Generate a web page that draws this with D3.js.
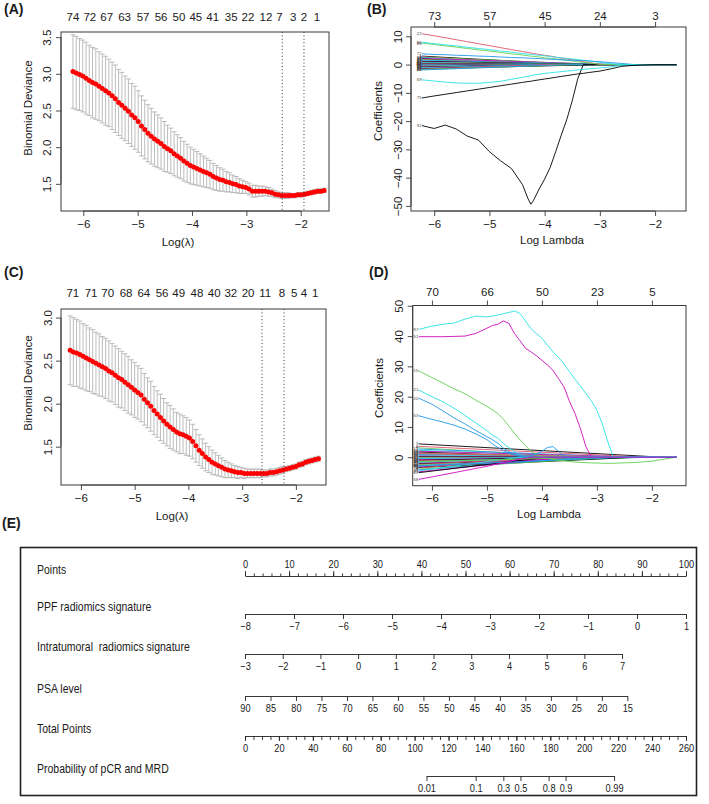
<!DOCTYPE html>
<html><head><meta charset="utf-8">
<script src="https://cdn.jsdelivr.net/npm/d3@7"></script>
<style>
body{margin:0;background:#fff;}
svg{display:block;}
</style></head><body>
<svg id="fig" width="709" height="804"></svg>
<script>
// ---------------- DATA ----------------
// Panel A: cross-validation curve
const lamA = [-6.19,-6.13,-6.07,-6.01,-5.95,-5.89,-5.83,-5.77,-5.71,-5.65,-5.59,-5.53,-5.47,-5.41,-5.35,-5.29,-5.23,-5.17,-5.11,-5.05,-4.99,-4.93,-4.87,-4.81,-4.75,-4.69,-4.63,-4.57,-4.51,-4.45,-4.39,-4.33,-4.27,-4.21,-4.15,-4.09,-4.03,-3.97,-3.91,-3.85,-3.79,-3.73,-3.67,-3.61,-3.55,-3.49,-3.43,-3.37,-3.31,-3.25,-3.19,-3.13,-3.07,-3.01,-2.95,-2.89,-2.83,-2.77,-2.71,-2.65,-2.59,-2.53,-2.47,-2.41,-2.35,-2.29,-2.23,-2.17,-2.11,-2.05,-1.99,-1.93,-1.87,-1.81,-1.75,-1.69,-1.63,-1.57];
const meanA = [3.03,3.01,2.99,2.97,2.94,2.91,2.88,2.86,2.83,2.80,2.77,2.74,2.70,2.66,2.61,2.57,2.53,2.49,2.44,2.40,2.35,2.29,2.24,2.19,2.15,2.11,2.08,2.05,2.01,1.98,1.95,1.91,1.88,1.85,1.81,1.78,1.75,1.73,1.71,1.69,1.67,1.65,1.63,1.60,1.58,1.56,1.55,1.53,1.52,1.50,1.49,1.47,1.46,1.45,1.43,1.40,1.40,1.40,1.40,1.40,1.39,1.38,1.36,1.35,1.34,1.34,1.34,1.34,1.34,1.35,1.35,1.36,1.37,1.38,1.39,1.40,1.40,1.41];
const seA = [0.50,0.50,0.49,0.49,0.49,0.48,0.48,0.48,0.47,0.47,0.47,0.46,0.46,0.46,0.45,0.45,0.44,0.44,0.43,0.43,0.42,0.41,0.40,0.39,0.38,0.37,0.36,0.35,0.34,0.32,0.31,0.30,0.29,0.28,0.27,0.26,0.25,0.24,0.23,0.22,0.21,0.20,0.19,0.18,0.17,0.16,0.15,0.14,0.13,0.12,0.11,0.10,0.09,0.08,0.08,0.08,0.08,0.07,0.07,0.06,0.06,0.05,0.05,0.04,0.04,0.04,0.04,0.03,0.03,0.03,0.03,0.03,0.03,0.03,0.03,0.03,0.03,0.03];
const topLabA = [74,72,67,63,57,56,50,45,41,35,22,12,7,3,2,1];
const topLamA = [-6.19,-5.88,-5.57,-5.24,-4.90,-4.57,-4.24,-3.93,-3.62,-3.28,-2.97,-2.64,-2.39,-2.14,-1.94,-1.70];
const vLinesA = [-2.34,-1.94];

// Panel C: cross-validation curve
const lamC = [-6.20,-6.14,-6.08,-6.02,-5.96,-5.90,-5.84,-5.78,-5.72,-5.66,-5.60,-5.54,-5.48,-5.42,-5.36,-5.30,-5.24,-5.18,-5.12,-5.06,-5.00,-4.94,-4.88,-4.82,-4.76,-4.70,-4.64,-4.58,-4.52,-4.46,-4.40,-4.34,-4.28,-4.22,-4.16,-4.10,-4.04,-3.98,-3.92,-3.86,-3.80,-3.74,-3.68,-3.62,-3.56,-3.50,-3.44,-3.38,-3.32,-3.26,-3.20,-3.14,-3.08,-3.02,-2.96,-2.90,-2.84,-2.78,-2.72,-2.66,-2.60,-2.54,-2.48,-2.42,-2.36,-2.30,-2.24,-2.18,-2.12,-2.06,-2.00,-1.94,-1.88,-1.82,-1.76,-1.70,-1.64,-1.58];
const meanC = [2.62,2.60,2.59,2.57,2.55,2.53,2.51,2.49,2.47,2.45,2.43,2.41,2.38,2.36,2.33,2.30,2.28,2.25,2.22,2.19,2.16,2.13,2.10,2.05,2.01,1.97,1.92,1.88,1.84,1.80,1.76,1.73,1.70,1.67,1.65,1.64,1.62,1.60,1.56,1.51,1.46,1.42,1.38,1.35,1.32,1.30,1.28,1.26,1.24,1.23,1.22,1.21,1.20,1.20,1.19,1.19,1.19,1.19,1.19,1.19,1.19,1.19,1.20,1.20,1.21,1.22,1.23,1.24,1.25,1.26,1.27,1.29,1.30,1.32,1.33,1.34,1.35,1.36];
const seC = [0.40,0.40,0.39,0.39,0.38,0.38,0.37,0.37,0.36,0.36,0.35,0.35,0.35,0.34,0.34,0.34,0.33,0.33,0.33,0.32,0.32,0.31,0.31,0.30,0.29,0.29,0.28,0.27,0.27,0.26,0.25,0.25,0.24,0.23,0.23,0.22,0.22,0.21,0.20,0.19,0.18,0.17,0.16,0.15,0.14,0.13,0.12,0.11,0.10,0.09,0.08,0.07,0.07,0.06,0.06,0.05,0.05,0.05,0.05,0.05,0.04,0.04,0.04,0.04,0.04,0.04,0.04,0.03,0.03,0.03,0.03,0.03,0.03,0.03,0.03,0.03,0.03,0.03];
const topLabC = [71,71,70,68,64,56,49,48,40,32,20,11,8,5,4,1];
const topLamC = [-6.15,-5.81,-5.50,-5.16,-4.83,-4.49,-4.18,-3.84,-3.52,-3.21,-2.89,-2.57,-2.26,-2.03,-1.85,-1.64];
const vLinesC = [-2.63,-2.22];

// Panel B: coefficient paths
const lamB = [-6.22,-6.0,-5.8,-5.6,-5.4,-5.2,-5.0,-4.8,-4.6,-4.4,-4.3,-4.25,-4.2,-4.1,-4.0,-3.9,-3.8,-3.7,-3.6,-3.5,-3.4,-3.3,-3.2,-3.0,-2.8,-2.6,-2.4,-2.2,-2.0,-1.8,-1.61];
const coefB92 = [-21.6,-22.6,-21.4,-22.8,-25.3,-26.7,-30.8,-34.0,-36.8,-42.5,-47.5,-49.4,-48.0,-44.0,-40.5,-36.4,-30.8,-25.0,-19.5,-12.8,-5.0,0,0,0,0,0,0,0,0,0,0];
const coefB22 = [10.9,10.2,9.5,8.8,8.1,7.4,6.7,6.0,5.3,4.6,4.3,4.1,3.9,3.6,3.3,3.0,2.6,2.3,2.0,1.7,1.4,1.0,0.7,0.1,0,0,0,0,0,0,0];
const coefB88 = [7.6,7.1,6.6,6.2,5.7,5.2,4.8,4.3,3.8,3.4,3.1,3.0,2.9,2.7,2.4,2.2,2.0,1.7,1.5,1.3,1.0,0.8,0.6,0.1,0,0,0,0,0,0,0];
const coefB86 = [7.9,7.4,7.0,6.6,6.1,5.7,5.3,4.8,4.4,3.9,3.7,3.6,3.5,3.3,3.1,2.9,2.6,2.4,2.2,2.0,1.8,1.5,1.3,0.8,0.3,0,0,0,0,0,0];
const coefB72 = [3.8,3.6,3.5,3.3,3.2,3.0,2.9,2.7,2.5,2.4,2.3,2.2,2.2,2.1,2.0,1.9,1.8,1.7,1.6,1.5,1.5,1.4,1.3,1.0,0.7,0.4,0.05,0,0,0,0];
const coefB69 = [-5.4,-5.8,-6.2,-6.5,-6.6,-6.6,-6.3,-5.9,-5.2,-4.5,-4.1,-3.9,-3.7,-3.4,-3.1,-2.9,-2.7,-2.5,-2.3,-2.1,-1.9,-1.7,-1.5,-1.2,-0.8,-0.2,0,0,0,0,0];
const coefB75 = [-11.8,-11.1,-10.5,-9.9,-9.3,-8.7,-8.1,-7.5,-6.9,-6.3,-6.0,-5.9,-5.7,-5.4,-5.1,-4.8,-4.5,-4.2,-3.9,-3.6,-3.3,-3.1,-2.8,-2.3,-1.5,-0.6,-0.3,-0.1,0,0,0];
const bundleStartB = [3.0,2.8,2.6,2.5,2.3,2.2,2.0,1.8,1.7,1.5,1.4,1.2,1.1,0.9,0.8,0.7,0.5,0.4,0.3,0.2,0.1,0.0,-0.1,-0.2,-0.3,-0.4,-0.5,-0.6,-0.7,-0.8,-0.9,-1.0,-1.1,-1.2,-1.3,-1.4,-1.5,-1.6,-1.7,-1.9];
const bundleZeroB = [-3.4,-3.9,-3.0,-4.2,-3.6,-2.8,-4.4,-3.2,-3.8,-2.6,-4.0,-3.5,-3.1,-4.3,-2.9,-3.7,-3.3,-4.1,-2.7,-3.6,-3.9,-3.2,-4.5,-3.0,-3.8,-3.4,-4.2,-2.8,-3.6,-3.1,-4.0,-3.5,-2.9,-4.3,-3.3,-3.7,-3.0,-3.9,-3.4,-3.6];
const bundleIdsB = [1,4,7,10,13,16,19,23,26,29,31,34,37,40,43,46,49,52,55,58,61,64,67,70,73,76,79,82,85,2,5,8,11,14,17,20,24,27,30,33];
const topLabB = [73,57,45,24,3];

// Panel D: coefficient paths
const lamD = [-6.24,-6.0,-5.8,-5.6,-5.4,-5.2,-5.0,-4.9,-4.8,-4.7,-4.6,-4.5,-4.4,-4.3,-4.2,-4.1,-4.0,-3.9,-3.8,-3.7,-3.6,-3.5,-3.4,-3.3,-3.2,-3.1,-3.0,-2.9,-2.8,-2.7,-2.6,-2.4,-2.2,-2.0,-1.8,-1.55];
const coefD87 = [42.2,43.3,43.9,44.3,45.6,46.6,46.3,46.6,47.0,47.4,47.8,48.3,47.5,45.0,42.5,40.8,39.3,37.0,34.8,33.0,30.8,28.3,25.8,23.5,21.0,18.6,15.5,11.0,5.0,0,0,0,0,0,0,0];
const coefD51 = [39.8,39.8,39.8,39.9,40.0,40.9,42.6,43.5,43.9,45.0,44.2,40.9,38.5,36.0,34.8,33.5,32.0,30.5,28.7,26.0,23.3,18.5,14.5,9.5,3.5,0,0,0,0,0,0,0,0,0,0,0];
const coefD15 = [28.5,26.3,24.5,22.6,21.0,18.8,16.8,15.6,14.4,12.5,10.3,7.9,5.8,3.8,2.0,0.9,0.2,-0.3,-0.7,-1.0,-1.2,-1.4,-1.6,-1.7,-1.8,-1.9,-1.9,-2.0,-2.0,-2.0,-1.9,-1.8,-1.6,-1.3,-0.7,0];
const coefD21 = [22.2,20.0,18.3,16.2,13.8,11.3,8.8,7.3,6.3,4.5,3.2,1.8,0.8,0.2,0,0,0,0,0,0,0,0,0,0,0,0,0,0,0,0,0,0,0,0,0,0];
const coefD20 = [19.5,17.5,15.3,13.0,11.0,8.8,6.8,5.8,4.6,3.0,1.8,1.0,0.6,0.4,0.5,1.0,2.0,3.2,3.5,2.0,0.3,0,0,0,0,0,0,0,0,0,0,0,0,0,0,0];
const coefD63 = [13.7,12.5,11.6,10.6,9.3,7.7,5.8,4.4,3.2,2.2,1.3,0.7,0.3,0,0,0,0,0,0,0,0,0,0,0,0,0,0,0,0,0,0,0,0,0,0,0];
const coefD58 = [-7.3,-6.5,-5.8,-5.1,-4.4,-3.7,-3.0,-2.6,-2.2,-1.8,-1.4,-1.0,-0.6,-0.3,0,0,0,0,0,0,0,0,0,0,0,0,0,0,0,0,0,0,0,0,0,0];
const bundleStartD = [4.4,3.6,3.1,2.7,2.3,2.0,1.7,1.4,1.1,0.9,0.6,0.4,0.2,0.0,-0.2,-0.4,-0.6,-0.8,-1.0,-1.2,-1.4,-1.6,-1.8,-2.0,-2.2,-2.4,-2.6,-2.8,-3.0,-3.2,-3.4,-3.6,-3.9,-4.2,-4.5,-4.8,-5.1,1.2,-1.5,-2.9];
const bundleZeroD = [-1.8,-2.1,-3.3,-2.4,-2.9,-2.2,-3.6,-2.6,-2.0,-3.1,-2.7,-3.8,-2.3,-3.0,-2.5,-3.4,-1.9,-2.8,-3.2,-2.2,-2.6,-3.5,-2.0,-2.9,-2.4,-3.7,-2.1,-3.0,-2.6,-3.3,-2.3,-4.0,-2.7,-3.2,-4.4,-3.6,-3.9,-2.8,-3.1,-2.5];
const bundleIdsD = [3,6,9,12,14,18,22,25,28,32,35,38,41,44,47,50,53,56,59,62,65,68,71,74,77,80,83,86,89,91,2,5,8,11,17,24,27,30,33,36];
const topLabD = [70,66,50,23,5];

// Panel E: nomogram
const pointsTicks = [0,10,20,30,40,50,60,70,80,90,100];
const ppfTicks = [-8,-7,-6,-5,-4,-3,-2,-1,0,1];
const ppfPoints = [0,100];            // points at -8 and 1
const intraTicks = [-3,-2,-1,0,1,2,3,4,5,6,7];
const intraPoints = [0,85.5];         // points at -3 and 7
const psaTicks = [90,85,80,75,70,65,60,55,50,45,40,35,30,25,20,15];
const psaPoints = [0,86.7];           // points at 90 and 15
const totalTicks = [0,20,40,60,80,100,120,140,160,180,200,220,240,260];
const probTicks = [0.01,0.1,0.3,0.5,0.8,0.9,0.99];
const probTotalPts = [107,136,152.3,162.4,179,189,217.6];
const rowNames = ["Points","PPF radiomics signature","Intratumoral\u00a0 radiomics signature","PSA level","Total Points","Probability of pCR and MRD"];

// ---------------- DRAWING ----------------
const svg = d3.select("#fig");
const FONT = '"Liberation Sans", Arial, Helvetica, sans-serif';
const NARROW = '"Liberation Sans Narrow", "Arial Narrow", "Liberation Sans", sans-serif';
const SQUEEZE = 0.84;
const pal = ["#000000","#DF536B","#61D04F","#2297E6","#28E2E5","#CD0BBC"];
const AX = "#3a3a3a", TXT = "#1a1a1a";
const mfmt = f => d => f(d).replace("-", "\u2212");

function txt(g, x, y, s, size, opts={}){
  const t = g.append("text").attr("x",x).attr("y",y).text(s)
    .attr("font-family", opts.family||FONT).attr("font-size",size).attr("fill",opts.fill||TXT)
    .attr("text-anchor", opts.anchor||"start");
  if(opts.weight) t.attr("font-weight",opts.weight);
  if(opts.rotate) t.attr("transform",`rotate(-90,${x},${y})`);
  if(opts.squeeze) t.attr("x",0).attr("y",0).attr("transform",`translate(${x},${y}) scale(${opts.squeeze},1)`);
  return t;
}

function styleAxis(ga){
  ga.attr("font-family",null).attr("font-size",null);
  ga.selectAll("line").attr("stroke",AX).attr("stroke-width",0.9);
  ga.selectAll("text").attr("font-family",FONT).attr("font-size",11.5).attr("fill",TXT);
}

function baseAxes(g, x, y, o){
  const [L,T,R,B] = o.box;
  g.append("rect").attr("x",L).attr("y",T).attr("width",R-L).attr("height",B-T)
    .attr("fill","none").attr("stroke",AX).attr("stroke-width",1);
  const gx = g.append("g").attr("transform",`translate(0,${B})`)
    .call(d3.axisBottom(x).tickValues(o.xTicks).tickSize(5).tickPadding(3.5).tickFormat(mfmt(d3.format("d"))));
  gx.select(".domain").remove();
  gx.append("line").attr("x1",x(o.xTicks[0])).attr("x2",x(o.xTicks[o.xTicks.length-1]));
  styleAxis(gx);
  const gy = g.append("g").attr("transform",`translate(${L},0)`)
    .call(d3.axisLeft(y).tickValues(o.yTicks).tickSize(5).tickFormat(mfmt(o.yFmt)));
  gy.select(".domain").remove();
  gy.append("line").attr("y1",y(o.yTicks[0])).attr("y2",y(o.yTicks[o.yTicks.length-1]));
  styleAxis(gy);
  gy.selectAll(".tick text").attr("transform","rotate(-90)").attr("x",0).attr("y",-o.yLabOff)
    .attr("dy",0).attr("text-anchor","middle");
  txt(g, o.xTitle[0], o.xTitle[1], o.xTitle[2], 11.5, {anchor:"middle"});
  txt(g, o.yTitle[0], o.yTitle[1], o.yTitle[2], 11.5, {anchor:"middle", rotate:true});
  txt(g, o.panel[0], o.panel[1], o.panel[2], 14, {weight:"bold"});
}

function cvPanel(o){
  const [L,T,R,B] = o.box;
  const g = svg.append("g");
  const x = d3.scaleLinear().domain(o.xDom).range([L,R]);
  const y = d3.scaleLinear().domain(o.yDom).range([B,T]);
  const idx = d3.range(o.lam.length);
  const barw = (d3.max(o.lam)-d3.min(o.lam))*0.01;
  const eb = g.append("g").attr("stroke","#ACACAC").attr("stroke-width",0.8);
  eb.append("g").selectAll("line").data(idx).join("line")
    .attr("x1",i=>x(o.lam[i])).attr("x2",i=>x(o.lam[i]))
    .attr("y1",i=>y(o.mean[i]+o.se[i])).attr("y2",i=>y(o.mean[i]-o.se[i]));
  [1,-1].forEach(sgn=>{
    eb.append("g").selectAll("line").data(idx).join("line")
      .attr("x1",i=>x(o.lam[i]-barw)).attr("x2",i=>x(o.lam[i]+barw))
      .attr("y1",i=>y(o.mean[i]+sgn*o.se[i])).attr("y2",i=>y(o.mean[i]+sgn*o.se[i]));
  });
  g.append("g").selectAll("circle").data(idx).join("circle")
    .attr("cx",i=>x(o.lam[i])).attr("cy",i=>y(o.mean[i])).attr("r",2.5).attr("fill","#FF0000");
  g.append("g").selectAll("line").data(o.vlines).join("line")
    .attr("x1",d=>x(d)).attr("x2",d=>x(d)).attr("y1",T).attr("y2",B)
    .attr("stroke","#333").attr("stroke-width",1).attr("stroke-dasharray","1 2.4");
  baseAxes(g, x, y, o);
  g.append("g").selectAll("text").data(o.topLab).join("text")
    .attr("x",(d,i)=>x(o.topLam[i])).attr("y",o.topY).text(d=>d)
    .attr("font-family",FONT).attr("font-size",11.5).attr("fill",TXT).attr("text-anchor","middle");
}

function coefPanel(o){
  const [L,T,R,B] = o.box;
  const g = svg.append("g");
  const x = d3.scaleLinear().domain(o.xDom).range([L,R]);
  const y = d3.scaleLinear().domain(o.yDom).range([B,T]);
  const line = d3.line().x(d=>x(d[0])).y(d=>y(d[1]));
  const clip = "clip"+o.id;
  g.append("clipPath").attr("id",clip).append("rect").attr("x",L).attr("y",T).attr("width",R-L).attr("height",B-T);
  const lg = g.append("g").attr("clip-path",`url(#${clip})`).attr("fill","none").attr("stroke-width",0.9);
  const l0 = o.lam[0], l1 = o.lam[o.lam.length-1];
  lg.selectAll(".bund").data(o.bStart).join("path").attr("class","bund")
    .attr("d",(s,i)=>line([[l0,s],[o.bZero[i],0],[l1,0]]))
    .attr("stroke",(s,i)=>pal[i%6]);
  lg.selectAll(".maj").data(o.majors).join("path").attr("class","maj")
    .attr("d",m=>line(o.lam.map((l,i)=>[l,m.v[i]])))
    .attr("stroke",m=>m.c);
  // tiny variable labels (stacked at the left end, as in the source plot)
  const lab = g.append("g").attr("font-family",FONT).attr("font-size",4.2).attr("fill","#444").attr("text-anchor","end");
  lab.selectAll(".bl").data(o.bStart).join("text").attr("class","bl")
    .attr("x",x(l0)-0.5).attr("y",s=>y(s)+1.4).text((s,i)=>o.bIds[i]);
  lab.selectAll(".ml").data(o.majors).join("text").attr("class","ml")
    .attr("x",x(l0)-0.5).attr("y",m=>y(m.v[0])+1.4).text(m=>m.id);
  baseAxes(g, x, y, o);
  const gt = g.append("g").attr("transform",`translate(0,${T})`)
    .call(d3.axisTop(x).tickValues(o.xTicks).tickSize(5).tickPadding(o.topPad).tickFormat((d,i)=>o.topLab[i]));
  gt.select(".domain").remove();
  gt.append("line").attr("x1",x(o.xTicks[0])).attr("x2",x(o.xTicks[o.xTicks.length-1]));
  styleAxis(gt);
}

// Panel A
cvPanel({box:[61,32,329,211], xDom:[-6.41,-1.48], yDom:[1.13,3.57],
  lam:lamA, mean:meanA, se:seA, vlines:vLinesA, topLab:topLabA, topLam:topLamA, topY:21,
  xTicks:[-6,-5,-4,-3,-2], yTicks:[1.5,2.0,2.5,3.0,3.5], yFmt:d3.format(".1f"), yLabOff:10,
  xTitle:[178,246,"Log(\u03bb)"], yTitle:[32,108,"Binomial Deviance"], panel:[4,14,"(A)"]});

// Panel C
cvPanel({box:[61,309,326,485], xDom:[-6.37,-1.44], yDom:[1.055,3.1],
  lam:lamC, mean:meanC, se:seC, vlines:vLinesC, topLab:topLabC, topLam:topLamC, topY:297,
  xTicks:[-6,-5,-4,-3,-2], yTicks:[1.5,2.0,2.5,3.0], yFmt:d3.format(".1f"), yLabOff:9.5,
  xTitle:[172,520,"Log(\u03bb)"], yTitle:[32,383,"Binomial Deviance"], panel:[4,277,"(C)"]});

// Panel B
coefPanel({id:"B", box:[411,27,686,211], xDom:[-6.42,-1.44], yDom:[-51.8,13.3],
  lam:lamB, bStart:bundleStartB, bZero:bundleZeroB, bIds:bundleIdsB,
  majors:[
    {id:"92", c:pal[0], v:coefB92},{id:"22", c:pal[1], v:coefB22},{id:"88", c:pal[2], v:coefB88},
    {id:"86", c:pal[4], v:coefB86},{id:"72", c:pal[3], v:coefB72},{id:"69", c:pal[4], v:coefB69},
    {id:"75", c:pal[0], v:coefB75}],
  xTicks:[-6,-5,-4,-3,-2], yTicks:[-50,-40,-30,-20,-10,0,10], yFmt:d3.format("d"), yLabOff:9.5,
  topLab:topLabB, topPad:2,
  xTitle:[552,244,"Log Lambda"], yTitle:[382,111,"Coefficients"], panel:[367,14,"(B)"]});

// Panel D
coefPanel({id:"D", box:[412.7,305.5,686,485.7], xDom:[-6.35,-1.38], yDom:[-9.4,50.1],
  lam:lamD, bStart:bundleStartD, bZero:bundleZeroD, bIds:bundleIdsD,
  majors:[
    {id:"87", c:pal[4], v:coefD87},{id:"51", c:pal[5], v:coefD51},{id:"15", c:pal[2], v:coefD15},
    {id:"21", c:pal[4], v:coefD21},{id:"20", c:pal[3], v:coefD20},{id:"63", c:pal[3], v:coefD63},
    {id:"58", c:pal[5], v:coefD58}],
  xTicks:[-6,-5,-4,-3,-2], yTicks:[0,10,20,30,40,50], yFmt:d3.format("d"), yLabOff:10,
  topLab:topLabD, topPad:4.5,
  xTitle:[549,518,"Log Lambda"], yTitle:[383,388,"Coefficients"], panel:[369,277,"(D)"]});

// Panel E: nomogram
(function(){
  const g = svg.append("g");
  txt(g, 2, 528, "(E)", 14, {weight:"bold"});
  g.append("rect").attr("x",20.5).attr("y",547.5).attr("width",676).attr("height",248)
    .attr("fill","none").attr("stroke","#222").attr("stroke-width",1.6);
  const pts = d3.scaleLinear().domain([0,100]).range([245,686]);
  const rowY = [576,614,654,696,736,776];
  rowNames.forEach((n,i)=> txt(g, 37, rowY[i]+(i===0?-2:-3), n, 12.5, {family:NARROW, squeeze:SQUEEZE}));
  function nStyle(ga){
    ga.attr("font-family",null).attr("font-size",null);
    ga.selectAll("line,path").attr("stroke","#222").attr("stroke-width",0.9);
    ga.selectAll("text").attr("font-family",NARROW).attr("font-size",11).attr("fill",TXT)
      .attr("transform",`scale(${SQUEEZE},1)`);
  }
  // Points (ticks up, labels above)
  const gp = g.append("g").attr("transform",`translate(0,${rowY[0]})`)
    .call(d3.axisTop(pts).tickValues(pointsTicks).tickSize(5).tickSizeOuter(0).tickPadding(3));
  g.append("g").attr("transform",`translate(0,${rowY[0]})`)
    .call(d3.axisTop(pts).tickValues(d3.range(0,101,2)).tickSize(2.5).tickSizeOuter(0).tickFormat(""))
    .call(ga=>{ga.select(".domain").remove(); nStyle(ga);});
  nStyle(gp);
  function lowerAxis(scale, ticks, y, fmt){
    const ga = g.append("g").attr("transform",`translate(0,${y})`)
      .call(d3.axisBottom(scale).tickValues(ticks).tickSize(5).tickSizeOuter(0).tickPadding(3).tickFormat(fmt));
    nStyle(ga);
    return ga;
  }
  const ppf = d3.scaleLinear().domain([ppfTicks[0], ppfTicks[ppfTicks.length-1]]).range(ppfPoints.map(pts));
  lowerAxis(ppf, ppfTicks, rowY[1], mfmt(d3.format("d")));
  const intra = d3.scaleLinear().domain([intraTicks[0], intraTicks[intraTicks.length-1]]).range(intraPoints.map(pts));
  lowerAxis(intra, intraTicks, rowY[2], mfmt(d3.format("d")));
  const psa = d3.scaleLinear().domain([psaTicks[0], psaTicks[psaTicks.length-1]]).range(psaPoints.map(pts));
  lowerAxis(psa, psaTicks, rowY[3], d3.format("d"));
  const tot = d3.scaleLinear().domain([0,260]).range([245,686]);
  lowerAxis(tot, totalTicks, rowY[4], d3.format("d"));
  g.append("g").attr("transform",`translate(0,${rowY[4]})`)
    .call(d3.axisBottom(tot).tickValues(d3.range(0,261,5)).tickSize(4).tickSizeOuter(0).tickFormat(""))
    .call(ga=>{ga.select(".domain").remove(); nStyle(ga);});
  const prob = d3.scaleLinear().domain(probTicks).range(probTotalPts.map(tot));
  lowerAxis(prob, probTicks, rowY[5], d=>String(d));
})();
</script>
</body></html>
